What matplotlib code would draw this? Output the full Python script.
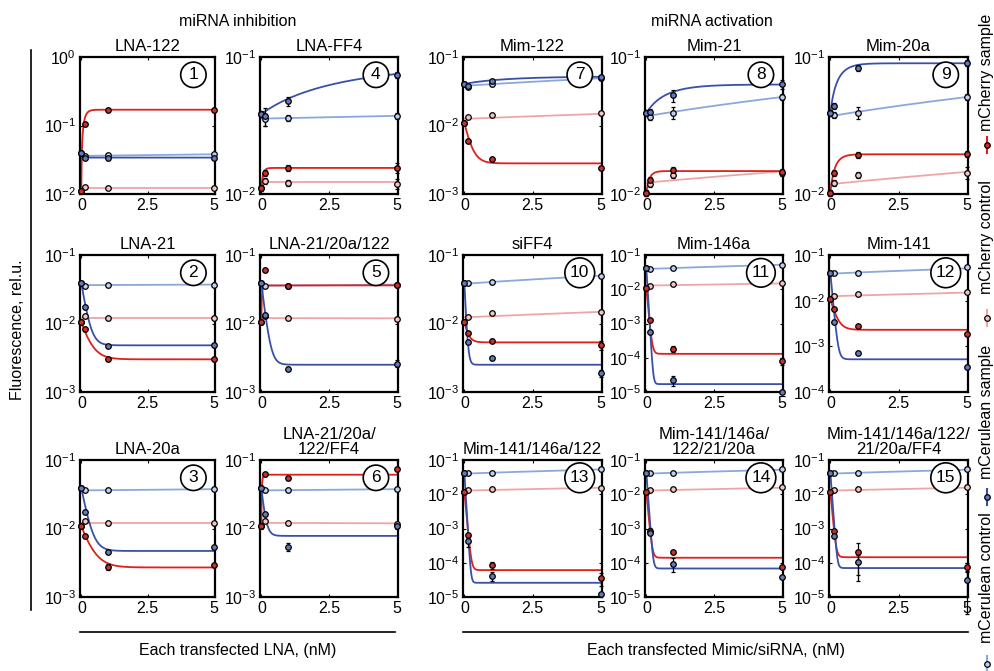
import numpy as np
import matplotlib
matplotlib.use('Agg')
import matplotlib.pyplot as plt
from matplotlib.lines import Line2D
from matplotlib.ticker import LogLocator, NullLocator, FixedLocator

plt.rcParams['font.family'] = ['Liberation Sans', 'DejaVu Sans']
plt.rcParams['mathtext.fontset'] = 'custom'
plt.rcParams['mathtext.rm'] = 'Liberation Sans'
plt.rcParams['mathtext.it'] = 'Liberation Sans:italic'

# transfected amount (nM)
doses = [0, 0.15, 1, 5]

# panels numbered 1..15 as in the figure
titles = ['LNA-122', 'LNA-21', 'LNA-20a', 'LNA-FF4', 'LNA-21/20a/122', 'LNA-21/20a/\n122/FF4',
          'Mim-122', 'Mim-21', 'Mim-20a', 'siFF4', 'Mim-146a', 'Mim-141',
          'Mim-141/146a/122', 'Mim-141/146a/\n122/21/20a', 'Mim-141/146a/122/\n21/20a/FF4']
ylow = [-2, -3, -3, -2, -3, -3, -3, -2, -2, -3, -5, -4, -5, -5, -5]
yhigh = [0, -1, -1, -1, -1, -1, -1, -1, -1, -1, -1, -1, -1, -1, -1]

# measured points
cherry_sample = [
    [0.011, 0.105, 0.17, 0.17],
    [0.0105, 0.0082, 0.003, 0.003],
    [0.0108, 0.0077, 0.00275, 0.0029],
    [0.011, 0.0143, 0.0155, 0.0155],
    [0.0105, 0.061, 0.035, 0.0367],
    [0.0108, 0.0625, 0.054, 0.073],
    [0.0109, 0.006, 0.00323, 0.0024],
    [0.0102, 0.0127, 0.0149, 0.0145],
    [0.0102, 0.0143, 0.0193, 0.0195],
    [0.0106, 0.0072, 0.0056, 0.0048],
    [0.0108, 0.00125, 0.000186, 8e-5],
    [0.0108, 0.0066, 0.00281, 0.00185],
    [0.0117, 0.00065, 8.5e-5, 3.5e-5],
    [0.0117, 0.00087, 0.0002, 7.6e-5],
    [0.0117, 0.00087, 0.0002, 7.6e-5],
]
cherry_control = [
    [0.011, 0.0125, 0.0124, 0.0122],
    [0.0105, 0.0128, 0.012, 0.012],
    [0.0108, 0.0129, 0.012, 0.012],
    [0.011, 0.0124, 0.0121, 0.0119],
    [0.0105, 0.0128, 0.012, 0.0118],
    [0.0108, 0.013, 0.0122, 0.0118],
    [0.0109, 0.0131, 0.0143, 0.0151],
    [0.0102, 0.0119, 0.0137, 0.0142],
    [0.0102, 0.012, 0.0137, 0.0142],
    [0.0106, 0.0125, 0.014, 0.0149],
    [0.0108, 0.0126, 0.0142, 0.0148],
    [0.0108, 0.0128, 0.0142, 0.0152],
    [0.0117, 0.0132, 0.0144, 0.0157],
    [0.0117, 0.013, 0.0144, 0.016],
    [0.0117, 0.0132, 0.0144, 0.016],
]
cer_sample = [
    [0.04, 0.034, 0.033, 0.034],
    [0.039, 0.0174, 0.0047, 0.0048],
    [0.039, 0.0175, 0.0046, 0.0053],
    [0.0383, 0.037, 0.0476, 0.074],
    [0.039, 0.0135, 0.0022, 0.0026],
    [0.039, 0.0162, 0.0054, 0.0108],
    [0.0405, 0.0375, 0.045, 0.0505],
    [0.039, 0.040, 0.0524, 0.0632],
    [0.039, 0.044, 0.083, 0.0907],
    [0.039, 0.0054, 0.0031, 0.0019],
    [0.041, 0.00055, 2.2e-5, 1e-5],
    [0.0403, 0.0034, 0.0007, 0.00036],
    [0.042, 0.00042, 4.1e-5, 1.25e-5],
    [0.042, 0.00072, 9.5e-5, 3.9e-5],
    [0.042, 0.00062, 0.000107, 3.1e-5],
]
cer_control = [
    [0.04, 0.036, 0.037, 0.038],
    [0.039, 0.035, 0.036, 0.037],
    [0.0393, 0.036, 0.037, 0.038],
    [0.0383, 0.035, 0.036, 0.037],
    [0.039, 0.035, 0.035, 0.037],
    [0.039, 0.036, 0.037, 0.038],
    [0.0405, 0.037, 0.04, 0.049],
    [0.039, 0.0367, 0.0393, 0.0509],
    [0.039, 0.0377, 0.0393, 0.051],
    [0.039, 0.0386, 0.04, 0.0497],
    [0.041, 0.039, 0.041, 0.052],
    [0.0403, 0.04, 0.04, 0.0536],
    [0.0424, 0.041, 0.042, 0.0556],
    [0.042, 0.041, 0.042, 0.055],
    [0.042, 0.041, 0.042, 0.055],
]

# fitted curves for samples: plateau and rate (start = first point)
cherry_floor = [0.17, 0.003, 0.0027, 0.0155, 0.036, 0.061, 0.0028, 0.0147, 0.0195,
                0.0053, 0.00013, 0.0023, 6.1e-5, 0.00014, 0.000145]
cherry_rate = [10, 3.5, 3, 15, 40, 40, 5, 8, 5, 8, 20, 6, 20, 20, 20]
cer_floor = [0.034, 0.0048, 0.0047, 0.09, 0.0025, 0.0078, 0.052, 0.063, 0.09,
             0.0025, 1.7e-5, 0.00052, 2.6e-5, 6.8e-5, 7e-5]
cer_rate = [15, 6, 5, 0.25, 8, 10, 0.6, 1.2, 3, 20, 30, 15, 30, 25, 25]

# linear fits for controls: value at 0 and at 5 nM
cherry_line = [(0.0123, 0.0123), (0.012, 0.012), (0.012, 0.012), (0.0122, 0.0122),
               (0.012, 0.0119), (0.0121, 0.0119), (0.0125, 0.0148), (0.0121, 0.0146),
               (0.0118, 0.0145), (0.0123, 0.0148), (0.0128, 0.0148), (0.0125, 0.015),
               (0.0128, 0.0155), (0.0128, 0.0155), (0.0128, 0.0155)]
cer_line = [(0.036, 0.038), (0.0363, 0.037), (0.036, 0.0375), (0.0355, 0.0372),
            (0.0355, 0.037), (0.036, 0.0375), (0.038, 0.049), (0.037, 0.051),
            (0.037, 0.051), (0.038, 0.05), (0.039, 0.052), (0.039, 0.051),
            (0.04, 0.053), (0.04, 0.052), (0.04, 0.052)]

# relative error bars, default plus the visibly larger ones
base_err = 0.05
big_err = [(4, 'cer_s', 1, 0.15), (4, 'cer_s', 2, 0.08), (4, 'cher_s', 3, 0.08),
           (4, 'cher_c', 3, 0.08), (4, 'cer_c', 1, 0.1), (3, 'cher_s', 2, 0.1),
           (5, 'cer_s', 3, 0.12), (6, 'cer_s', 2, 0.12),
           (8, 'cer_s', 2, 0.1), (8, 'cer_s', 3, 0.08), (8, 'cer_c', 2, 0.1),
           (9, 'cer_c', 2, 0.1), (9, 'cher_c', 3, 0.1),
           (10, 'cer_s', 3, 0.12), (10, 'cher_s', 3, 0.15),
           (11, 'cer_s', 2, 0.3), (11, 'cher_s', 2, 0.2), (11, 'cher_s', 3, 0.25),
           (13, 'cher_s', 2, 0.25), (13, 'cer_s', 2, 0.3), (13, 'cher_s', 3, 0.4),
           (13, 'cer_s', 1, 0.3), (14, 'cer_s', 2, 0.45), (14, 'cher_s', 1, 0.2),
           (15, 'cher_s', 2, 0.85), (15, 'cer_s', 2, 0.6), (15, 'cer_s', 3, 0.9),
           (15, 'cher_s', 3, 0.3)]

col_cher_s, col_cher_c = '#e0201c', '#f0a5a5'
col_cer_s, col_cer_c = '#3a50a8', '#8aa8dc'
fill = {'cher_s': '#c8302c', 'cher_c': '#f3c4c4', 'cer_s': '#6478bc', 'cer_c': '#c2d0ee'}
W, H = 995, 671
fig = plt.figure(figsize=(W / 100, H / 100), dpi=100)

lefts = [80, 260, 463, 645, 829]
rights = [215, 398, 602, 783, 968]
tops = [57, 255, 460]
ph = 137

xs = np.linspace(0, 5, 500)


def panel_pos(p):
    if p <= 6:
        col, row = (p - 1) // 3, (p - 1) % 3
    else:
        row, col = (p - 7) // 3, 2 + (p - 7) % 3
    l, r, t = lefts[col], rights[col], tops[row]
    return [l / W, 1 - (t + ph) / H, (r - l) / W, ph / H]


def errs(p, key, vals):
    e = [base_err] * 4
    for (pp, k, i, v) in big_err:
        if pp == p and k == key:
            e[i] = v
    return np.array(vals) * np.array(e)


for i in range(15):
    p = i + 1
    ax = fig.add_axes(panel_pos(p))
    ax.set_yscale('log')
    # control lines
    a, b = cherry_line[i]
    ax.plot(xs, a + (b - a) * xs / 5, color=col_cher_c, lw=1.3)
    a, b = cer_line[i]
    ax.plot(xs, a + (b - a) * xs / 5, color=col_cer_c, lw=1.3)
    # sample fits
    y0 = cherry_sample[i][0]
    ax.plot(xs, cherry_floor[i] + (y0 - cherry_floor[i]) * np.exp(-cherry_rate[i] * xs),
            color=col_cher_s, lw=1.3)
    y0 = cer_sample[i][0]
    ax.plot(xs, cer_floor[i] + (y0 - cer_floor[i]) * np.exp(-cer_rate[i] * xs),
            color=col_cer_s, lw=1.3)
    for key, vals in [('cher_c', cherry_control[i]), ('cer_c', cer_control[i]),
                      ('cher_s', cherry_sample[i]), ('cer_s', cer_sample[i])]:
        ax.errorbar(doses, vals, yerr=errs(p, key, vals), fmt='o', ms=4,
                    mfc=fill[key], mec='black', mew=0.9, ecolor='black',
                    elinewidth=0.9, capsize=1.5, clip_on=False, zorder=5)
    ax.set_xlim(-0.05, 5.05)
    ax.set_ylim(10.0 ** ylow[i], 10.0 ** yhigh[i])
    ax.xaxis.set_major_locator(FixedLocator([0, 2.5, 5]))
    ax.set_xticklabels(['0', '2.5', '5'])
    ax.yaxis.set_major_locator(LogLocator(base=10, numticks=10))
    ax.yaxis.set_minor_locator(NullLocator())
    ax.tick_params(direction='in', length=2.5, width=0.8, labelsize=11.5,
                   top=True, right=True, pad=3)
    for s in ax.spines.values():
        s.set_linewidth(1.6)
    ax.set_title(titles[i], fontsize=12, pad=4, linespacing=1.05)
    ax.text(0.84, 0.87, str(p), transform=ax.transAxes, ha='center', va='center',
            fontsize=12.5, zorder=10,
            bbox=dict(boxstyle='circle,pad=0.3', fc='white', ec='black', lw=1.2))

# group headers
fig.text(238 / W, 1 - 22 / H, 'miRNA inhibition', ha='center', va='center', fontsize=11.5)
fig.text(712 / W, 1 - 22 / H, 'miRNA activation', ha='center', va='center', fontsize=11.5)

# y label and bracket line
fig.text(18 / W, 1 - 330 / H, 'Fluorescence, rel.u.', rotation=90, ha='center',
         va='center', fontsize=11.5)
fig.add_artist(Line2D([31 / W, 31 / W], [1 - 50 / H, 1 - 610 / H], color='black', lw=1.2))

# x labels with lines
fig.add_artist(Line2D([80 / W, 395 / W], [1 - 632 / H, 1 - 632 / H], color='black', lw=1.2))
fig.text(238 / W, 1 - 650 / H, 'Each transfected LNA, (nM)', ha='center', va='center',
         fontsize=11.5)
fig.add_artist(Line2D([463 / W, 968 / W], [1 - 632 / H, 1 - 632 / H], color='black', lw=1.2))
fig.text(716 / W, 1 - 650 / H, 'Each transfected Mimic/siRNA, (nM)', ha='center',
         va='center', fontsize=11.5)

# vertical legend on the right
leg_x = 987
legend_items = [('mCherry sample', col_cher_s, fill['cher_s'], 72, 145),
                ('mCherry control', col_cher_c, fill['cher_c'], 237, 318),
                ('mCerulean sample', col_cer_s, fill['cer_s'], 412, 497),
                ('mCerulean control', col_cer_c, fill['cer_c'], 578, 664)]
for label, lc, fc, ty, my in legend_items:
    fig.text(leg_x / W, 1 - ty / H, label, rotation=90, ha='center', va='center',
             fontsize=11.5)
    fig.add_artist(Line2D([leg_x / W, leg_x / W], [1 - (my - 8) / H, 1 - (my + 8) / H],
                          color=lc, lw=1.5))
    fig.add_artist(Line2D([leg_x / W], [1 - my / H], marker='o', ms=4, mfc=fc,
                          mec='black', mew=0.9, ls='none'))

fig.savefig('out.png', dpi=100)
